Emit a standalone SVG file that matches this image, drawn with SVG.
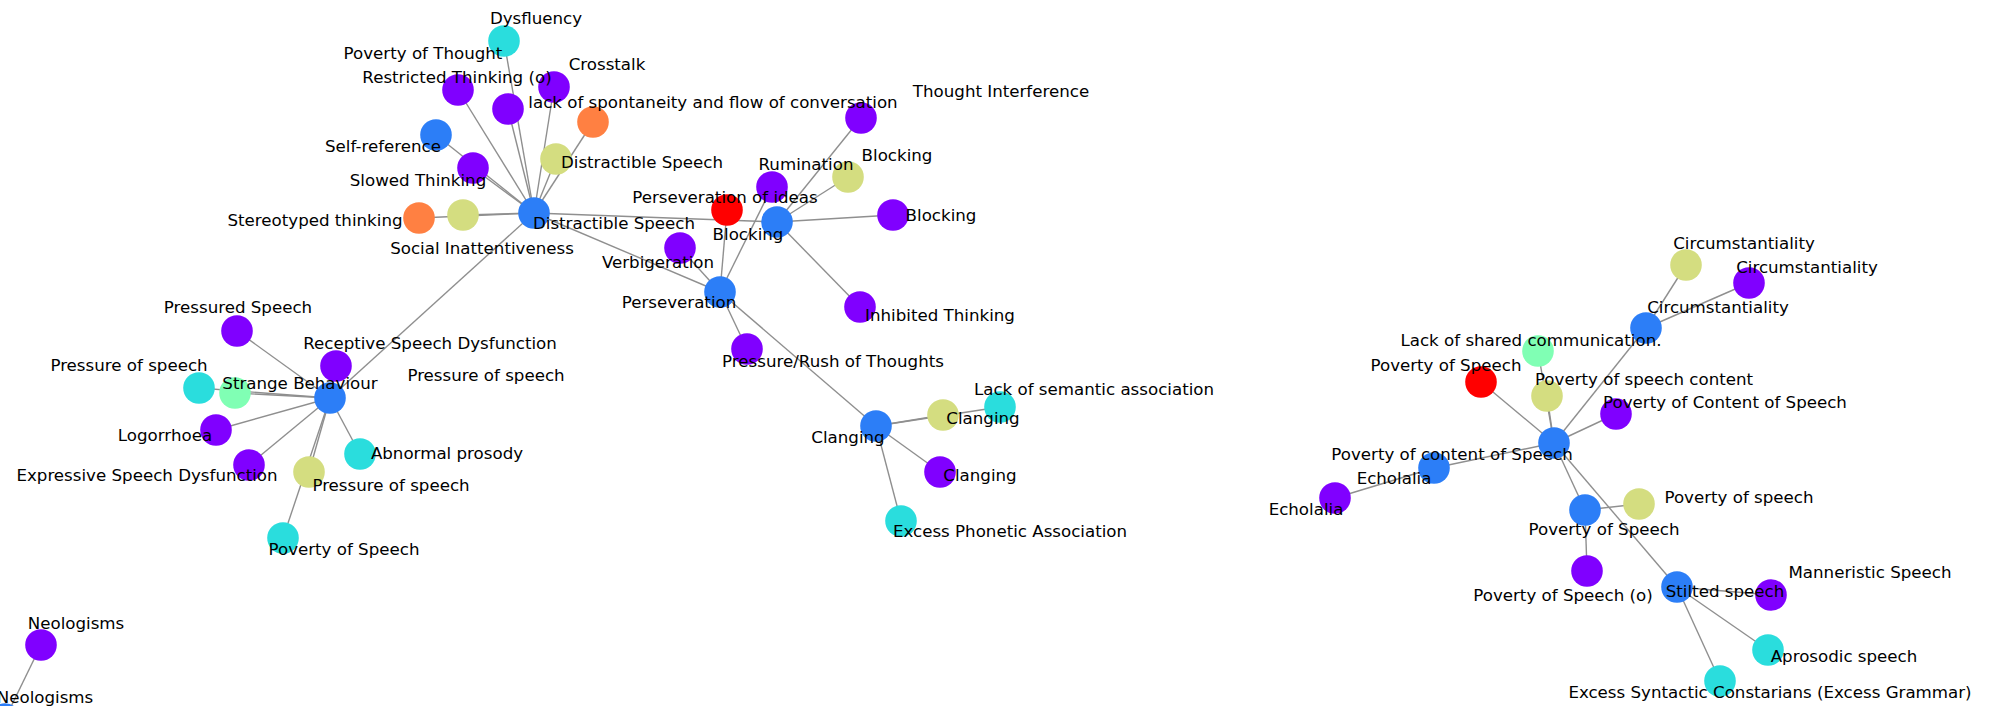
<svg xmlns="http://www.w3.org/2000/svg" width="1998" height="706" viewBox="0 0 1998 706">
<style>
  .e { stroke: #8f8f8f; stroke-width: 1.4; fill: none; }
  .n { stroke: none; }
  .c0 { fill: #8000ff; }
  .c1 { fill: #2c7ef7; }
  .c2 { fill: #2adddd; }
  .c3 { fill: #80ffb4; }
  .c4 { fill: #d4dd80; }
  .c5 { fill: #ff8042; }
  .c6 { fill: #ff0000; }
  text { font-family: "DejaVu Sans", "Liberation Sans", sans-serif; font-size: 16.67px; fill: #000; text-anchor: middle; dominant-baseline: central; }
</style>
<rect width="1998" height="706" fill="#ffffff"/>

<!-- edges -->
<g id="edges">
  <!-- Distractible Speech hub -->
  <line class="e" x1="534" y1="213" x2="504" y2="41"/>
  <line class="e" x1="534" y1="213" x2="458" y2="90"/>
  <line class="e" x1="534" y1="213" x2="508" y2="109"/>
  <line class="e" x1="534" y1="213" x2="554" y2="87"/>
  <line class="e" x1="534" y1="213" x2="593" y2="122"/>
  <line class="e" x1="534" y1="213" x2="556" y2="159"/>
  <line class="e" x1="534" y1="213" x2="436" y2="135"/>
  <line class="e" x1="534" y1="213" x2="473" y2="168"/>
  <line class="e" x1="534" y1="213" x2="463" y2="215"/>
  <line class="e" x1="534" y1="213" x2="419" y2="218"/>
  <line class="e" x1="534" y1="213" x2="777" y2="222"/>
  <line class="e" x1="534" y1="213" x2="720" y2="292"/>
  <line class="e" x1="534" y1="213" x2="330" y2="398"/>
  <!-- Perseveration -->
  <line class="e" x1="720" y1="292" x2="680" y2="248"/>
  <line class="e" x1="720" y1="292" x2="727" y2="210"/>
  <line class="e" x1="720" y1="292" x2="772" y2="187"/>
  <line class="e" x1="720" y1="292" x2="747" y2="349"/>
  <line class="e" x1="720" y1="292" x2="876" y2="426"/>
  <!-- Blocking hub -->
  <line class="e" x1="777" y1="222" x2="861" y2="118"/>
  <line class="e" x1="777" y1="222" x2="848" y2="177"/>
  <line class="e" x1="777" y1="222" x2="893" y2="215"/>
  <line class="e" x1="777" y1="222" x2="860" y2="307"/>
  <!-- Strange Behaviour hub -->
  <line class="e" x1="330" y1="398" x2="237" y2="331"/>
  <line class="e" x1="330" y1="398" x2="336" y2="366"/>
  <line class="e" x1="330" y1="398" x2="199" y2="388"/>
  <line class="e" x1="330" y1="398" x2="235" y2="393"/>
  <line class="e" x1="330" y1="398" x2="216" y2="430"/>
  <line class="e" x1="330" y1="398" x2="249" y2="465"/>
  <line class="e" x1="330" y1="398" x2="309" y2="472"/>
  <line class="e" x1="330" y1="398" x2="360" y2="454"/>
  <line class="e" x1="330" y1="398" x2="283" y2="538"/>
  <!-- Clanging hub -->
  <line class="e" x1="876" y1="426" x2="943" y2="415"/>
  <line class="e" x1="876" y1="426" x2="1000" y2="407"/>
  <line class="e" x1="876" y1="426" x2="940" y2="472"/>
  <line class="e" x1="876" y1="426" x2="901" y2="521"/>
  <!-- Neologisms -->
  <line class="e" x1="41" y1="645" x2="5" y2="719"/>
  <!-- Poverty of content of Speech hub -->
  <line class="e" x1="1554" y1="443" x2="1646" y2="328"/>
  <line class="e" x1="1554" y1="443" x2="1538" y2="351"/>
  <line class="e" x1="1554" y1="443" x2="1481" y2="382"/>
  <line class="e" x1="1554" y1="443" x2="1547" y2="396"/>
  <line class="e" x1="1554" y1="443" x2="1616" y2="414"/>
  <line class="e" x1="1554" y1="443" x2="1434" y2="468"/>
  <line class="e" x1="1554" y1="443" x2="1585" y2="510"/>
  <line class="e" x1="1554" y1="443" x2="1677" y2="587"/>
  <line class="e" x1="1646" y1="328" x2="1686" y2="265"/>
  <line class="e" x1="1646" y1="328" x2="1749" y2="283"/>
  <line class="e" x1="1434" y1="468" x2="1335" y2="498"/>
  <line class="e" x1="1585" y1="510" x2="1639" y2="504"/>
  <line class="e" x1="1585" y1="510" x2="1587" y2="571"/>
  <line class="e" x1="1677" y1="587" x2="1771" y2="595"/>
  <line class="e" x1="1677" y1="587" x2="1768" y2="650"/>
  <line class="e" x1="1677" y1="587" x2="1720" y2="681"/>
</g>

<!-- nodes -->
<g id="n-dysfluency"><circle class="n c2" cx="504" cy="41" r="15.8"/></g>
<g id="n-poverty-thought"><circle class="n c0" cx="458" cy="90" r="15.8"/></g>
<g id="n-restricted-thinking"><circle class="n c0" cx="508" cy="109" r="15.8"/></g>
<g id="n-crosstalk"><circle class="n c0" cx="554" cy="87" r="15.8"/></g>
<g id="n-lack-spontaneity"><circle class="n c5" cx="593" cy="122" r="15.8"/></g>
<g id="n-self-reference"><circle class="n c1" cx="436" cy="135" r="15.8"/></g>
<g id="n-slowed-thinking"><circle class="n c0" cx="473" cy="168" r="15.8"/></g>
<g id="n-distractible-speech-2"><circle class="n c4" cx="556" cy="159" r="15.8"/></g>
<g id="n-distractible-speech"><circle class="n c1" cx="534" cy="213" r="15.8"/></g>
<g id="n-social-inattentiveness"><circle class="n c4" cx="463" cy="215" r="15.8"/></g>
<g id="n-stereotyped-thinking"><circle class="n c5" cx="419" cy="218" r="15.8"/></g>
<g id="n-thought-interference"><circle class="n c0" cx="861" cy="118" r="15.8"/></g>
<g id="n-blocking-2"><circle class="n c4" cx="848" cy="177" r="15.8"/></g>
<g id="n-rumination"><circle class="n c0" cx="772" cy="187" r="15.8"/></g>
<g id="n-perseveration-ideas"><circle class="n c6" cx="727" cy="210" r="15.8"/></g>
<g id="n-blocking"><circle class="n c1" cx="777" cy="222" r="15.8"/></g>
<g id="n-blocking-3"><circle class="n c0" cx="893" cy="215" r="15.8"/></g>
<g id="n-verbigeration"><circle class="n c0" cx="680" cy="248" r="15.8"/></g>
<g id="n-perseveration"><circle class="n c1" cx="720" cy="292" r="15.8"/></g>
<g id="n-inhibited-thinking"><circle class="n c0" cx="860" cy="307" r="15.8"/></g>
<g id="n-pressure-rush"><circle class="n c0" cx="747" cy="349" r="15.8"/></g>
<g id="n-pressured-speech"><circle class="n c0" cx="237" cy="331" r="15.8"/></g>
<g id="n-receptive-speech"><circle class="n c0" cx="336" cy="366" r="15.8"/></g>
<g id="n-pressure-speech-1"><circle class="n c2" cx="199" cy="388" r="15.8"/></g>
<g id="n-strange-behaviour-2"><circle class="n c3" cx="235" cy="393" r="15.8"/></g>
<g id="n-strange-behaviour"><circle class="n c1" cx="330" cy="398" r="15.8"/></g>
<g id="n-logorrhoea"><circle class="n c0" cx="216" cy="430" r="15.8"/></g>
<g id="n-expressive-speech"><circle class="n c0" cx="249" cy="465" r="15.8"/></g>
<g id="n-pressure-speech-2"><circle class="n c4" cx="309" cy="472" r="15.8"/></g>
<g id="n-abnormal-prosody"><circle class="n c2" cx="360" cy="454" r="15.8"/></g>
<g id="n-poverty-speech-left"><circle class="n c2" cx="283" cy="538" r="15.8"/></g>
<g id="n-clanging"><circle class="n c1" cx="876" cy="426" r="15.8"/></g>
<g id="n-clanging-2"><circle class="n c4" cx="943" cy="415" r="15.8"/></g>
<g id="n-lack-semantic"><circle class="n c2" cx="1000" cy="407" r="15.8"/></g>
<g id="n-clanging-3"><circle class="n c0" cx="940" cy="472" r="15.8"/></g>
<g id="n-excess-phonetic"><circle class="n c2" cx="901" cy="521" r="15.8"/></g>
<g id="n-neologisms"><circle class="n c0" cx="41" cy="645" r="15.8"/></g>
<g id="n-neologisms-2"><circle class="n c1" cx="5" cy="719" r="15.8"/></g>
<g id="n-circumstantiality-2"><circle class="n c4" cx="1686" cy="265" r="15.8"/></g>
<g id="n-circumstantiality-3"><circle class="n c0" cx="1749" cy="283" r="15.8"/></g>
<g id="n-circumstantiality"><circle class="n c1" cx="1646" cy="328" r="15.8"/></g>
<g id="n-lack-shared"><circle class="n c3" cx="1538" cy="351" r="15.8"/></g>
<g id="n-poverty-speech-red"><circle class="n c6" cx="1481" cy="382" r="15.8"/></g>
<g id="n-poverty-speech-content"><circle class="n c4" cx="1547" cy="396" r="15.8"/></g>
<g id="n-poverty-content-speech"><circle class="n c0" cx="1616" cy="414" r="15.8"/></g>
<g id="n-poverty-content-hub"><circle class="n c1" cx="1554" cy="443" r="15.8"/></g>
<g id="n-echolalia"><circle class="n c1" cx="1434" cy="468" r="15.8"/></g>
<g id="n-echolalia-2"><circle class="n c0" cx="1335" cy="498" r="15.8"/></g>
<g id="n-poverty-speech-yellow"><circle class="n c4" cx="1639" cy="504" r="15.8"/></g>
<g id="n-poverty-speech"><circle class="n c1" cx="1585" cy="510" r="15.8"/></g>
<g id="n-poverty-speech-o"><circle class="n c0" cx="1587" cy="571" r="15.8"/></g>
<g id="n-stilted-speech"><circle class="n c1" cx="1677" cy="587" r="15.8"/></g>
<g id="n-manneristic-speech"><circle class="n c0" cx="1771" cy="595" r="15.8"/></g>
<g id="n-aprosodic-speech"><circle class="n c2" cx="1768" cy="650" r="15.8"/></g>
<g id="n-excess-syntactic"><circle class="n c2" cx="1720" cy="681" r="15.8"/></g>

<!-- labels -->
<g id="labels">
  <text x="536" y="18">Dysfluency</text>
  <text x="423" y="53">Poverty of Thought</text>
  <text x="457" y="77">Restricted Thinking (o)</text>
  <text x="607" y="64">Crosstalk</text>
  <text x="713" y="102">lack of spontaneity and flow of conversation</text>
  <text x="1001" y="91">Thought Interference</text>
  <text x="383" y="146">Self-reference</text>
  <text x="642" y="162">Distractible Speech</text>
  <text x="806" y="164">Rumination</text>
  <text x="897" y="155">Blocking</text>
  <text x="418" y="180">Slowed Thinking</text>
  <text x="725" y="197">Perseveration of ideas</text>
  <text x="315" y="220">Stereotyped thinking</text>
  <text x="941" y="215">Blocking</text>
  <text x="614" y="223">Distractible Speech</text>
  <text x="748" y="234">Blocking</text>
  <text x="482" y="248">Social Inattentiveness</text>
  <text x="658" y="262">Verbigeration</text>
  <text x="679" y="302">Perseveration</text>
  <text x="940" y="315">Inhibited Thinking</text>
  <text x="238" y="307">Pressured Speech</text>
  <text x="430" y="343">Receptive Speech Dysfunction</text>
  <text x="129" y="365">Pressure of speech</text>
  <text x="300" y="383">Strange Behaviour</text>
  <text x="486" y="375">Pressure of speech</text>
  <text x="833" y="361">Pressure/Rush of Thoughts</text>
  <text x="165" y="435">Logorrhoea</text>
  <text x="447" y="453">Abnormal prosody</text>
  <text x="147" y="475">Expressive Speech Dysfunction</text>
  <text x="391" y="485">Pressure of speech</text>
  <text x="344" y="549">Poverty of Speech</text>
  <text x="1094" y="389">Lack of semantic association</text>
  <text x="983" y="418">Clanging</text>
  <text x="848" y="437">Clanging</text>
  <text x="980" y="475">Clanging</text>
  <text x="1010" y="531">Excess Phonetic Association</text>
  <text x="76" y="623">Neologisms</text>
  <text x="45" y="697">Neologisms</text>
  <text x="1744" y="243">Circumstantiality</text>
  <text x="1807" y="267">Circumstantiality</text>
  <text x="1718" y="307">Circumstantiality</text>
  <text x="1531" y="340">Lack of shared communication.</text>
  <text x="1446" y="365">Poverty of Speech</text>
  <text x="1644" y="379">Poverty of speech content</text>
  <text x="1725" y="402">Poverty of Content of Speech</text>
  <text x="1452" y="454">Poverty of content of Speech</text>
  <text x="1394" y="478">Echolalia</text>
  <text x="1306" y="509">Echolalia</text>
  <text x="1739" y="497">Poverty of speech</text>
  <text x="1604" y="529">Poverty of Speech</text>
  <text x="1563" y="595">Poverty of Speech (o)</text>
  <text x="1725" y="591">Stilted speech</text>
  <text x="1870" y="572">Manneristic Speech</text>
  <text x="1844" y="656">Aprosodic speech</text>
  <text x="1770" y="692">Excess Syntactic Constarians (Excess Grammar)</text>
</g>
</svg>
